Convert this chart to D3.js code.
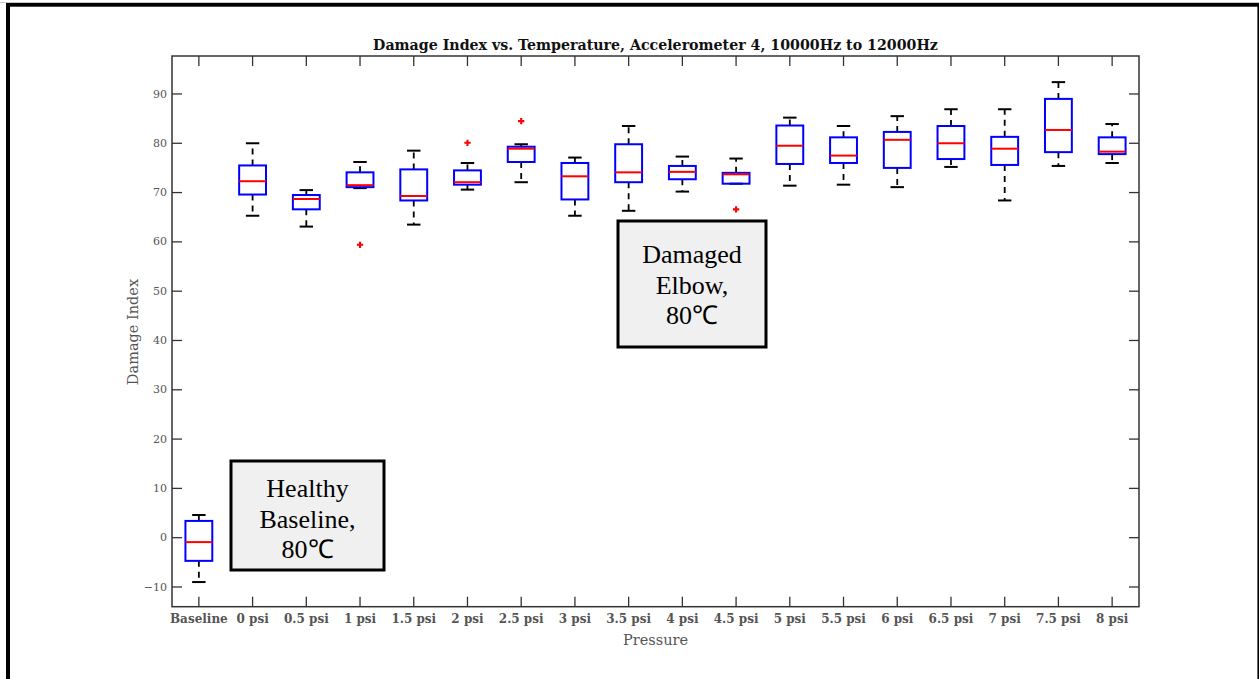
<!DOCTYPE html>
<html>
<head>
<meta charset="utf-8">
<script src="https://cdnjs.cloudflare.com/ajax/libs/d3/7.8.5/d3.min.js"></script>
<style>
  html, body { margin: 0; padding: 0; background: #fff; }
  svg { display: block; }
</style>
</head>
<body>
<svg id="chart" width="1259" height="679"></svg>
<script>
// Box-plot summary per pressure condition
const categories = ["Baseline", "0 psi", "0.5 psi", "1 psi", "1.5 psi", "2 psi", "2.5 psi", "3 psi",
  "3.5 psi", "4 psi", "4.5 psi", "5 psi", "5.5 psi", "6 psi", "6.5 psi", "7 psi", "7.5 psi", "8 psi"];
const whiskerLow  = [-9.1, 65.2, 63.0, 70.8, 63.4, 70.5, 72.0, 65.2, 66.2, 70.1, 71.7, 71.3, 71.5, 71.0, 75.1, 68.3, 75.3, 75.9];
const quartile1   = [-4.8, 69.5, 66.5, 71.0, 68.3, 71.5, 76.1, 68.5, 72.0, 72.6, 71.7, 75.7, 75.9, 74.9, 76.7, 75.5, 78.1, 77.7];
const medians     = [-1.0, 72.2, 68.6, 71.4, 69.2, 72.0, 78.8, 73.2, 74.0, 74.1, 73.6, 79.4, 77.4, 80.6, 79.9, 78.8, 82.6, 78.2];
const quartile3   = [ 3.3, 75.4, 69.4, 74.0, 74.6, 74.4, 79.2, 75.9, 79.7, 75.3, 73.9, 83.5, 81.1, 82.2, 83.4, 81.2, 88.9, 81.1];
const whiskerHigh = [ 4.5, 79.9, 70.4, 76.1, 78.4, 75.9, 79.7, 77.0, 83.4, 77.2, 76.8, 85.1, 83.4, 85.4, 86.8, 86.8, 92.3, 83.8];
const outlierCategories = ["1 psi", "2 psi", "2.5 psi", "4.5 psi"];
const outlierValues     = [59.3, 80.0, 84.4, 66.5];
const yTicks = [-10, 0, 10, 20, 30, 40, 50, 60, 70, 80, 90];

const titleText = "Damage Index vs. Temperature, Accelerometer 4, 10000Hz to 12000Hz";
const xLabel = "Pressure";
const yLabel = "Damage Index";
const healthyNote = ["Healthy", "Baseline,", "80\u2103"];
const damagedNote = ["Damaged", "Elbow,", "80\u2103"];

const svg = d3.select("#chart");
const W = 1259, H = 679;
const plot = { left: 172, right: 1139, top: 56, bottom: 606.7 };

svg.append("rect").attr("width", W).attr("height", H).attr("fill", "#fff");

// Outer frame
svg.append("rect").attr("x", 0).attr("y", 2).attr("width", W).attr("height", 1).attr("fill", "#c8c8c8");
svg.append("rect").attr("x", 6).attr("y", 3).attr("width", W - 6).attr("height", 3.7).attr("fill", "#000");
svg.append("rect").attr("x", 6).attr("y", 3).attr("width", 4).attr("height", H - 3).attr("fill", "#000");
svg.append("rect").attr("x", W - 1.6).attr("y", 3).attr("width", 1.6).attr("height", H - 3).attr("fill", "#000");

const x = d3.scaleBand().domain(categories).range([plot.left, plot.right]).paddingInner(0).paddingOuter(0);
const y = d3.scaleLinear().domain([-14.1, 97.6]).range([plot.bottom, plot.top]);
const bw = x.bandwidth();
const cx = c => x(c) + bw / 2;

const tickFont = "'DejaVu Serif', serif";
const axisColor = "#333";

function styleAxis(g) {
  g.select(".domain").remove();
  g.selectAll(".tick line").attr("stroke", axisColor).attr("stroke-width", 1.3);
  g.selectAll(".tick text").attr("fill", "#555").attr("font-family", tickFont)
    .attr("font-size", 12).attr("font-weight", "bold");
}

svg.append("g").attr("transform", `translate(0,${plot.bottom})`)
  .call(d3.axisBottom(x).tickSizeInner(-10).tickSizeOuter(0).tickPadding(8))
  .call(styleAxis);
svg.append("g").attr("transform", `translate(0,${plot.top})`)
  .call(d3.axisTop(x).tickSizeInner(-10).tickSizeOuter(0).tickFormat(""))
  .call(styleAxis);
svg.append("g").attr("transform", `translate(${plot.left},0)`)
  .call(d3.axisLeft(y).tickValues(yTicks).tickSizeInner(-10).tickSizeOuter(0).tickPadding(5))
  .call(styleAxis)
  .selectAll(".tick text").attr("font-weight", "normal").attr("font-size", 11);
svg.append("g").attr("transform", `translate(${plot.right},0)`)
  .call(d3.axisRight(y).tickValues(yTicks).tickSizeInner(-10).tickSizeOuter(0).tickFormat(""))
  .call(styleAxis);

svg.append("rect")
  .attr("x", plot.left).attr("y", plot.top)
  .attr("width", plot.right - plot.left).attr("height", plot.bottom - plot.top)
  .attr("fill", "none").attr("stroke", axisColor).attr("stroke-width", 1.5);

// Boxes
const rows = categories.map((c, i) => ({
  c, lo: whiskerLow[i], q1: quartile1[i], med: medians[i], q3: quartile3[i], hi: whiskerHigh[i]
}));
const boxW = bw * 0.5, capW = bw * 0.25;
const gBox = svg.append("g");
const item = gBox.selectAll("g.box").data(rows).join("g").attr("class", "box");

item.append("line")
  .attr("x1", d => cx(d.c)).attr("x2", d => cx(d.c))
  .attr("y1", d => y(d.q3)).attr("y2", d => y(d.hi))
  .attr("stroke", "#000").attr("stroke-width", 1.8).attr("stroke-dasharray", "6,5");
item.append("line")
  .attr("x1", d => cx(d.c)).attr("x2", d => cx(d.c))
  .attr("y1", d => y(d.q1)).attr("y2", d => y(d.lo))
  .attr("stroke", "#000").attr("stroke-width", 1.8).attr("stroke-dasharray", "6,5");
item.append("line")
  .attr("x1", d => cx(d.c) - capW / 2).attr("x2", d => cx(d.c) + capW / 2)
  .attr("y1", d => y(d.hi)).attr("y2", d => y(d.hi))
  .attr("stroke", "#000").attr("stroke-width", 2);
item.append("line")
  .attr("x1", d => cx(d.c) - capW / 2).attr("x2", d => cx(d.c) + capW / 2)
  .attr("y1", d => y(d.lo)).attr("y2", d => y(d.lo))
  .attr("stroke", "#000").attr("stroke-width", 2);
item.append("rect")
  .attr("x", d => cx(d.c) - boxW / 2).attr("width", boxW)
  .attr("y", d => y(d.q3)).attr("height", d => y(d.q1) - y(d.q3))
  .attr("fill", "none").attr("stroke", "#0000ff").attr("stroke-width", 2);
item.append("line")
  .attr("x1", d => cx(d.c) - boxW / 2).attr("x2", d => cx(d.c) + boxW / 2)
  .attr("y1", d => y(d.med)).attr("y2", d => y(d.med))
  .attr("stroke", "#ff0000").attr("stroke-width", 2);

// Outliers
const outliers = outlierCategories.map((c, i) => ({ c, v: outlierValues[i] }));
svg.append("g").selectAll("path").data(outliers).join("path")
  .attr("transform", d => `translate(${cx(d.c)},${y(d.v)})`)
  .attr("d", d3.symbol(d3.symbolCross).size(22))
  .attr("fill", "#ff0000");

// Title and axis labels
svg.append("text").attr("x", (plot.left + plot.right) / 2).attr("y", 50)
  .attr("text-anchor", "middle").attr("font-family", tickFont).attr("font-weight", "bold")
  .attr("font-size", 14.2).attr("fill", "#111").text(titleText);
svg.append("text").attr("x", (plot.left + plot.right) / 2).attr("y", 645)
  .attr("text-anchor", "middle").attr("font-family", tickFont)
  .attr("font-size", 14.5).attr("fill", "#555").text(xLabel);
svg.append("text").attr("transform", `translate(138,332) rotate(-90)`)
  .attr("text-anchor", "middle").attr("font-family", tickFont)
  .attr("font-size", 14.5).attr("fill", "#555").text(yLabel);

// Annotation boxes
function note(x0, y0, w, h, lines, firstBaseline) {
  svg.append("rect").attr("x", x0).attr("y", y0).attr("width", w).attr("height", h)
    .attr("fill", "#f0f0f0").attr("stroke", "#000").attr("stroke-width", 3);
  const t = svg.append("text").attr("text-anchor", "middle")
    .attr("font-family", "'Liberation Serif', 'Times New Roman', serif")
    .attr("font-size", 26).attr("fill", "#000");
  lines.forEach((s, i) => {
    t.append("tspan").attr("x", x0 + w / 2).attr("y", firstBaseline + i * 30.5).text(s);
  });
}
note(231, 461, 153, 109, healthyNote, 497);
note(618, 221, 148, 126, damagedNote, 263);
</script>
</body>
</html>
